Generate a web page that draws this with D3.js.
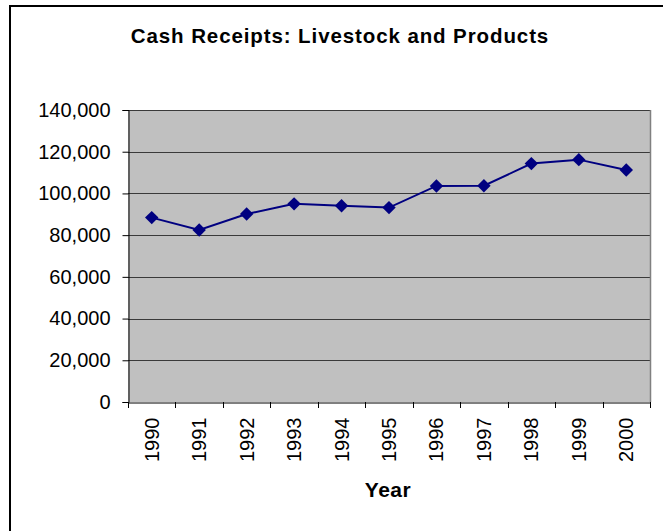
<!DOCTYPE html>
<html><head><meta charset="utf-8">
<script src="https://cdn.jsdelivr.net/npm/d3@7"></script>
<style>body{margin:0;background:#fff;}svg{display:block;}</style>
</head><body>
<svg id="c" width="663" height="531"></svg>
<script>
const years = ["1990","1991","1992","1993","1994","1995","1996","1997","1998","1999","2000"];
const receipts = [88400, 82500, 90100, 95000, 94100, 93200, 103600, 103700, 114300, 116200, 111200];
const yTicks = [0, 20000, 40000, 60000, 80000, 100000, 120000, 140000];
const title = "Cash Receipts: Livestock and Products";
const xTitle = "Year";

const svg = d3.select("#c");
const W = 663, H = 531;
const m = {left:128, right:650, top:110, bottom:402};

// outer border
svg.append("rect").attr("x",10).attr("y",6).attr("width",W+10).attr("height",H+10)
  .attr("fill","#fff").attr("stroke","#000").attr("stroke-width",2);

const x = d3.scaleBand().domain(years).range([m.left, m.right]);
const y = d3.scaleLinear().domain([0,140000]).range([m.bottom, m.top]);

// plot area
svg.append("rect").attr("x",m.left).attr("y",m.top).attr("width",m.right-m.left).attr("height",m.bottom-m.top)
  .attr("fill","#C0C0C0");
// gridlines
svg.append("g").selectAll("line").data(yTicks.filter(d=>d>0)).join("line")
  .attr("x1",m.left).attr("x2",m.right).attr("y1",d=>Math.round(y(d))+0.5).attr("y2",d=>Math.round(y(d))+0.5)
  .attr("stroke","#3a3a3a").attr("stroke-width",1);
// right border
svg.append("line").attr("x1",m.right+0.5).attr("x2",m.right+0.5).attr("y1",m.top).attr("y2",m.bottom)
  .attr("stroke","#808080").attr("stroke-width",1.5);

// y axis
const yAxis = d3.axisLeft(y).tickValues(yTicks).tickFormat(d3.format(",")).tickSize(6).tickPadding(12);
const gy = svg.append("g").attr("transform",`translate(${m.left+0.5},0)`).call(yAxis);
gy.selectAll("text").attr("font-family","Arial, 'Liberation Sans', sans-serif").attr("font-size",20).attr("fill","#000");
gy.select(".domain").attr("stroke","#000");
gy.selectAll(".tick line").attr("stroke","#000");

// x axis
const gx = svg.append("g").attr("transform",`translate(0,${m.bottom+0.5})`)
  .call(d3.axisBottom(x).tickSize(0).tickSizeOuter(0));
gx.select(".domain").attr("stroke","#000");
gx.selectAll(".tick text")
  .attr("font-family","Arial, 'Liberation Sans', sans-serif").attr("font-size",20).attr("fill","#000")
  .attr("transform","rotate(-90)").attr("text-anchor","end").attr("x",-15).attr("y",0).attr("dy","0.35em");
// band boundary ticks
const bounds = years.map(d=>x(d)).concat([m.right]);
svg.append("g").selectAll("line").data(bounds).join("line")
  .attr("x1",d=>Math.round(d)+0.5).attr("x2",d=>Math.round(d)+0.5)
  .attr("y1",m.bottom).attr("y2",m.bottom+6).attr("stroke","#000");

// line
const line = d3.line().x((d,i)=>x(years[i])+x.bandwidth()/2).y(d=>y(d));
svg.append("path").datum(receipts).attr("d",line).attr("fill","none")
  .attr("stroke","#000080").attr("stroke-width",2);
svg.append("g").selectAll("path").data(receipts).join("path")
  .attr("d",d3.symbol(d3.symbolDiamond2 || d3.symbolDiamond, 115))
  .attr("transform",(d,i)=>`translate(${x(years[i])+x.bandwidth()/2},${y(d)})`)
  .attr("fill","#000080");

// titles
svg.append("text").attr("x",340).attr("y",43).attr("text-anchor","middle")
  .attr("font-family","Arial, 'Liberation Sans', sans-serif").attr("font-weight","bold").attr("font-size",20.5)
  .attr("letter-spacing",0.9)
  .text(title);
svg.append("text").attr("x",388).attr("y",497).attr("text-anchor","middle")
  .attr("font-family","Arial, 'Liberation Sans', sans-serif").attr("font-weight","bold").attr("font-size",21)
  .attr("letter-spacing",0.5)
  .text(xTitle);
</script>
</body></html>
